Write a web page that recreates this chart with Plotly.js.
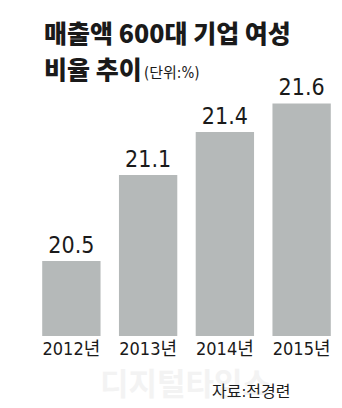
<!DOCTYPE html>
<html>
<head>
<meta charset="utf-8">
<script src="https://cdn.plot.ly/plotly-3.0.1.min.js"></script>
<style>html,body{margin:0;padding:0;background:#fff;}#chart{width:342px;height:408px;}</style>
</head>
<body>
<div id="chart"></div>
<script>
var categories = ["2012년", "2013년", "2014년", "2015년"];
var values = [20.5, 21.1, 21.4, 21.6];
var valueLabels = ["20.5", "21.1", "21.4", "21.6"];
var titleLine1 = "매출액 600대 기업 여성";
var titleLine2 = "비율 추이";
var unitText = "(단위:%)";
var sourceText = "자료:전경련";
var watermarkText = "디지털타임스";

var narrow = "Liberation Sans Narrow, DejaVu Sans Condensed, Noto Sans CJK KR, sans-serif";
var titleFont = {family: "Noto Sans CJK KR", size: 25, color: "#1a1a1a", weight: 900};

var trace = {
  type: "bar",
  x: categories,
  y: values,
  text: valueLabels,
  textposition: "outside",
  cliponaxis: false,
  textfont: {family: narrow, size: 23, color: "#1a1a1a"},
  marker: {color: "#b5b9b9"},
  hoverinfo: "none"
};

var layout = {
  width: 342,
  height: 408,
  margin: {l: 33, r: 2, t: 60, b: 72},
  paper_bgcolor: "#ffffff",
  plot_bgcolor: "#ffffff",
  showlegend: false,
  bargap: 0.24,
  xaxis: {
    type: "category",
    showgrid: false, zeroline: false, showline: false,
    ticks: "", ticklen: 0,
    tickfont: {family: narrow, size: 18, color: "#1a1a1a"},
    automargin: false
  },
  yaxis: {
    range: [19.977, 21.903],
    visible: false,
    showgrid: false, zeroline: false,
    fixedrange: true
  },
  annotations: [
    {xref: "paper", yref: "paper", x: 0.498, y: -(381 - 336) / 276, xanchor: "center", yanchor: "middle",
     text: watermarkText, showarrow: false,
     font: {family: "Noto Sans CJK KR", size: 31, color: "#f3f3f3", weight: 700}},
    {xref: "paper", yref: "paper", x: (292 - 33) / 307, y: -(380 - 336) / 276, xanchor: "right", yanchor: "top",
     text: sourceText, showarrow: false,
     font: {family: narrow, size: 16, color: "#1a1a1a"}},
    {xref: "paper", yref: "paper", x: (42 - 33) / 307, y: (336 - 31.5) / 276, xanchor: "left", yanchor: "middle",
     text: titleLine1, showarrow: false, font: titleFont},
    {xref: "paper", yref: "paper", x: (42 - 33) / 307, y: (336 - 67.5) / 276, xanchor: "left", yanchor: "middle",
     text: titleLine2, showarrow: false, font: titleFont},
    {xref: "paper", yref: "paper", x: (142 - 33) / 307, y: (336 - 72.5) / 276, xanchor: "left", yanchor: "middle",
     text: unitText, showarrow: false,
     font: {family: narrow, size: 15, color: "#1a1a1a"}}
  ]
};

Plotly.newPlot("chart", [trace], layout, {displayModeBar: false, staticPlot: true});
</script>
</body>
</html>
